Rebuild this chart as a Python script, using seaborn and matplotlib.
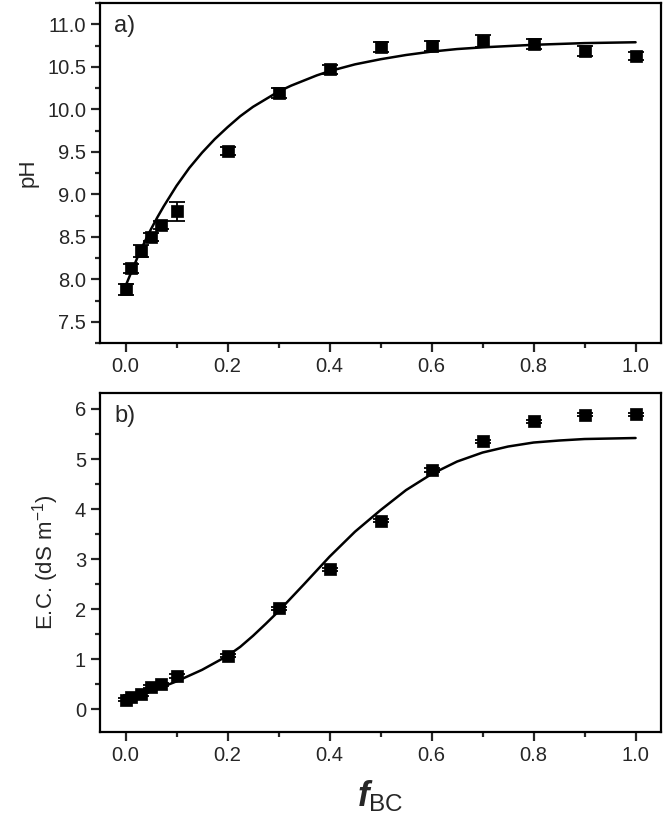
import numpy as np
import pandas as pd
import matplotlib
matplotlib.use('Agg')
import matplotlib.pyplot as plt
from matplotlib.ticker import MultipleLocator
import seaborn as sns

# measured data
f_bc = [0.0, 0.01, 0.03, 0.05, 0.07, 0.1, 0.2, 0.3, 0.4, 0.5, 0.6, 0.7, 0.8, 0.9, 1.0]
ph = [7.88, 8.13, 8.33, 8.50, 8.64, 8.80, 9.51, 10.19, 10.47, 10.73, 10.75, 10.81, 10.77, 10.69, 10.63]
ph_err = [0.06, 0.05, 0.07, 0.05, 0.05, 0.11, 0.05, 0.06, 0.05, 0.06, 0.06, 0.07, 0.06, 0.06, 0.05]
ec = [0.19, 0.25, 0.30, 0.45, 0.50, 0.67, 1.07, 2.02, 2.80, 3.77, 4.79, 5.36, 5.75, 5.88, 5.89]
ec_err = [0.03, 0.03, 0.03, 0.03, 0.03, 0.04, 0.03, 0.03, 0.03, 0.03, 0.04, 0.03, 0.03, 0.03, 0.03]

# fitted curves
ph_fit_x = [0.0, 0.0125, 0.025, 0.0375, 0.05, 0.0625, 0.075, 0.0875, 0.1, 0.125, 0.15, 0.175,
            0.2, 0.225, 0.25, 0.275, 0.3, 0.325, 0.35, 0.375, 0.4, 0.45, 0.5, 0.55, 0.6, 0.65,
            0.7, 0.8, 0.9, 1.0]
ph_fit_y = [7.92, 8.10, 8.28, 8.44, 8.59, 8.73, 8.86, 8.98, 9.10, 9.31, 9.49, 9.65,
            9.79, 9.92, 10.03, 10.12, 10.21, 10.28, 10.34, 10.40, 10.45, 10.53, 10.59, 10.64, 10.68, 10.71,
            10.73, 10.76, 10.78, 10.79]
ec_fit_x = [0.0, 0.05, 0.1, 0.15, 0.2, 0.225, 0.25, 0.275, 0.3, 0.35, 0.4, 0.45, 0.5, 0.55, 0.6,
            0.65, 0.7, 0.75, 0.8, 0.85, 0.9, 0.95, 1.0]
ec_fit_y = [0.20, 0.36, 0.56, 0.79, 1.07, 1.25, 1.47, 1.71, 1.96, 2.50, 3.05, 3.55, 3.98, 4.38, 4.70,
            4.95, 5.13, 5.25, 5.33, 5.37, 5.40, 5.41, 5.42]

sns.set_style('ticks')
plt.rcParams['font.family'] = ['Liberation Sans', 'DejaVu Sans']
plt.rcParams['mathtext.fontset'] = 'custom'
plt.rcParams['mathtext.rm'] = 'Liberation Sans'
plt.rcParams['mathtext.it'] = 'Liberation Sans:italic:bold'
plt.rcParams['mathtext.bf'] = 'Liberation Sans:bold'

fig = plt.figure(figsize=(6.64, 8.35), dpi=100)
ax1 = fig.add_axes([0.1506, 0.5892, 0.845, 0.407])
ax2 = fig.add_axes([0.1506, 0.1234, 0.845, 0.406])

pts = pd.DataFrame({'f': f_bc, 'ph': ph, 'ec': ec})
fit_ph = pd.DataFrame({'f': ph_fit_x, 'y': ph_fit_y})
fit_ec = pd.DataFrame({'f': ec_fit_x, 'y': ec_fit_y})

for ax, col, err, fit in [(ax1, 'ph', ph_err, fit_ph), (ax2, 'ec', ec_err, fit_ec)]:
    sns.lineplot(data=fit, x='f', y='y', ax=ax, color='black', lw=1.8, zorder=2)
    ax.errorbar(pts['f'], pts[col], yerr=err, fmt='none', ecolor='black', elinewidth=1.3,
                capsize=6, capthick=1.3, zorder=3)
    sns.scatterplot(data=pts, x='f', y=col, ax=ax, marker='s', s=80, color='black',
                    edgecolor='black', linewidth=0.5, zorder=4)
    ax.set_xlim(-0.05, 1.05)
    ax.xaxis.set_major_locator(MultipleLocator(0.2))
    ax.xaxis.set_minor_locator(MultipleLocator(0.1))
    ax.tick_params(which='major', direction='out', length=6.5, width=1.6, labelsize=14.5,
                   top=False, right=False)
    ax.tick_params(which='minor', direction='out', length=3.5, width=1.6, top=False, right=False)
    for s in ax.spines.values():
        s.set_visible(True)
        s.set_linewidth(1.6)
        s.set_color('black')
    ax.set_xlabel('')

ax1.set_ylim(7.25, 11.25)
ax1.yaxis.set_major_locator(MultipleLocator(0.5))
ax1.yaxis.set_minor_locator(MultipleLocator(0.25))
ax1.yaxis.set_major_formatter(plt.FormatStrFormatter('%.1f'))
ax1.xaxis.set_major_formatter(plt.FormatStrFormatter('%.1f'))
ax1.set_ylabel('pH', fontsize=16, labelpad=6)
ax1.text(0.025, 0.965, 'a)', transform=ax1.transAxes, fontsize=17, va='top', ha='left')

ax2.set_ylim(-0.45, 6.32)
ax2.yaxis.set_major_locator(MultipleLocator(1))
ax2.yaxis.set_minor_locator(MultipleLocator(0.5))
ax2.xaxis.set_major_formatter(plt.FormatStrFormatter('%.1f'))
ax2.set_ylabel('E.C. (dS m$^{-1}$)', fontsize=16, labelpad=10)
ax2.text(0.025, 0.965, 'b)', transform=ax2.transAxes, fontsize=17, va='top', ha='left')
ax2.set_xlabel(r'$\mathit{f}_{\mathrm{BC}}$', fontsize=25, labelpad=10)

fig.savefig('out.png', dpi=100)
